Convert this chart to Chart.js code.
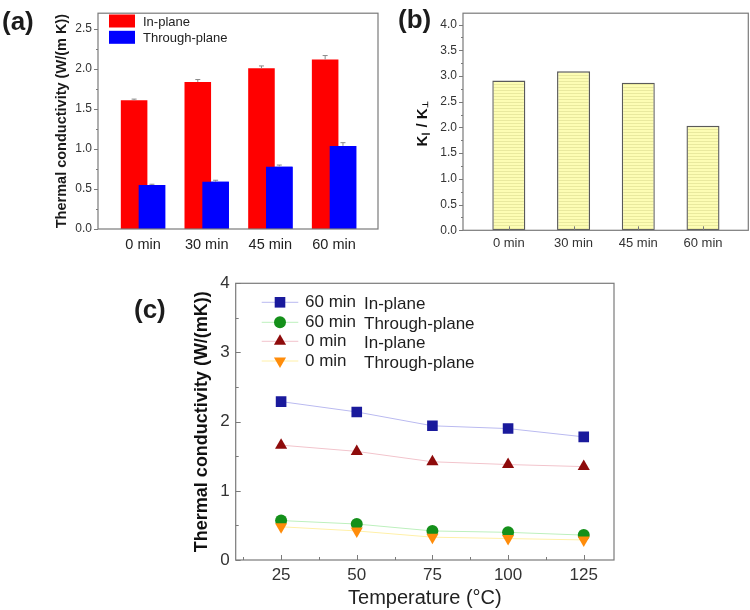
<!DOCTYPE html>
<html><head><meta charset="utf-8">
<script src="https://cdn.jsdelivr.net/npm/chart.js@4.4.1/dist/chart.umd.min.js"></script>
<style>
body{margin:0;background:#fff;width:750px;height:610px;position:relative;overflow:hidden;font-family:Arial,'Liberation Sans',sans-serif}
canvas{position:absolute}
.lbl{position:absolute;font-weight:bold;font-size:26px;line-height:1;color:#1c1c1c;font-family:Arial,'Liberation Sans',sans-serif}
</style></head><body>
<canvas id="ca" width="380" height="258" style="left:0;top:0"></canvas>
<canvas id="cb" width="370" height="258" style="left:380px;top:0"></canvas>
<canvas id="cc" width="500" height="352" style="left:130px;top:258px"></canvas>
<div class="lbl" style="left:2px;top:8px">(a)</div>
<div class="lbl" style="left:398px;top:6px">(b)</div>
<div class="lbl" style="left:134px;top:296px">(c)</div>
<script>
// ---------- data ----------
const categories = ['0 min', '30 min', '45 min', '60 min'];
const inPlane = [1.61, 1.84, 2.01, 2.12];
const throughPlane = [0.55, 0.59, 0.78, 1.04];
const inPlaneErr = [0.015, 0.03, 0.03, 0.05];
const throughPlaneErr = [0.01, 0.02, 0.02, 0.04];
const ratio = [2.91, 3.09, 2.87, 2.03];
const temperatures = [25, 50, 75, 100, 125];
const k60In = [2.29, 2.14, 1.94, 1.90, 1.78];
const k60Through = [0.57, 0.52, 0.42, 0.40, 0.36];
const k0In = [1.66, 1.57, 1.42, 1.38, 1.35];
const k0Through = [0.48, 0.42, 0.33, 0.31, 0.29];
const seriesTime = ['60 min', '60 min', '0 min', '0 min'];
const seriesType = ['In-plane', 'Through-plane', 'In-plane', 'Through-plane'];

const FONT = "Arial, 'Liberation Sans', sans-serif";
Chart.defaults.font.family = FONT;
Chart.defaults.animation = false;

function stepTicks(step) {
  return s => {
    const out = [];
    for (let v = Math.ceil(s.min / step) * step; v <= s.max + 1e-9; v += step) out.push({ value: Math.round(v * 1000) / 1000 });
    s.ticks = out;
  };
}

function makeFrame(o) {
  return {
    id: 'frame',
    afterDraw(chart) {
      const ctx = chart.ctx, a = chart.chartArea;
      ctx.save();
      ctx.strokeStyle = o.color; ctx.lineWidth = o.lw;
      ctx.strokeRect(a.left, a.top, a.right - a.left, a.bottom - a.top);
      ctx.lineWidth = 1;
      const drawAxis = (scale, isY, spec) => {
        if (!spec) return;
        const vals = scale.ticks.map(t => t.value);
        const step = vals.length > 1 ? vals[1] - vals[0] : 1;
        const minors = [];
        if (spec.minor) {
          vals.forEach(v => { if (v - step / 2 >= scale.min) minors.push(v - step / 2); });
          const l = vals[vals.length - 1] + step / 2;
          if (l <= scale.max) minors.push(l);
        }
        const s = spec.dir === 'in' ? 1 : -1;
        const seg = (v, len) => {
          const p = Math.round(scale.getPixelForValue(v)) + 0.5;
          ctx.beginPath();
          if (isY) { ctx.moveTo(a.left, p); ctx.lineTo(a.left + s * len, p); }
          else { ctx.moveTo(p, a.bottom); ctx.lineTo(p, a.bottom - s * len); }
          ctx.stroke();
        };
        vals.forEach(v => seg(v, spec.major));
        minors.forEach(v => seg(v, spec.minor));
      };
      drawAxis(chart.scales.x, false, o.x);
      drawAxis(chart.scales.y, true, o.y);
      ctx.restore();
    }
  };
}

// ---------- (a) ----------
const errPlugin = {
  id: 'errbars',
  afterDatasetsDraw(chart) {
    const ctx = chart.ctx, ys = chart.scales.y;
    // the second series overlaps the first one, so it is painted again on top
    chart.getDatasetMeta(1).controller.draw();
    ctx.save(); ctx.strokeStyle = '#8a8a8a'; ctx.lineWidth = 1;
    chart.data.datasets.forEach((d, di) => {
      const meta = chart.getDatasetMeta(di);
      meta.data.forEach((el, i) => {
        const v = d.data[i].y, e = d.err[i];
        const y1 = ys.getPixelForValue(v), y2 = ys.getPixelForValue(v + e);
        ctx.beginPath();
        ctx.moveTo(el.x, y1); ctx.lineTo(el.x, y2);
        ctx.moveTo(el.x - 2.5, y2); ctx.lineTo(el.x + 2.5, y2);
        ctx.stroke();
      });
    });
    ctx.restore();
  }
};
const legendA = {
  id: 'legendA',
  afterDraw(chart) {
    const ctx = chart.ctx;
    ctx.save();
    chart.data.datasets.forEach((d, i) => {
      const y = 14.5 + i * 16.3;
      ctx.fillStyle = d.backgroundColor;
      ctx.fillRect(109, y, 26, 13);
      ctx.fillStyle = '#222';
      ctx.font = '13px ' + FONT;
      ctx.textBaseline = 'middle';
      ctx.fillText(d.label, 143, y + 7.5);
    });
    ctx.restore();
  }
};
new Chart(document.getElementById('ca'), {
  type: 'bar',
  data: {
    datasets: [
      { label: 'In-plane', data: inPlane.map((v, i) => ({ x: i, y: v })), backgroundColor: '#ff0000', err: inPlaneErr, categoryPercentage: 0.56, barPercentage: 1.49 },
      { label: 'Through-plane', data: throughPlane.map((v, i) => ({ x: i, y: v })), backgroundColor: '#0000ff', err: throughPlaneErr, categoryPercentage: 0.56, barPercentage: 1.49 }
    ]
  },
  options: {
    responsive: false, animation: false,
    layout: { padding: { top: 4, right: 2, left: 0, bottom: 0 } },
    plugins: { legend: { display: false }, tooltip: { enabled: false } },
    scales: {
      x: {
        type: 'linear', min: -0.707, max: 3.69, offset: false,
        grid: { display: false, drawTicks: false, offset: false }, border: { display: false },
        afterBuildTicks: stepTicks(1),
        ticks: { autoSkip: false, maxRotation: 0, padding: 7, font: { size: 14.5 }, color: '#222', callback: v => categories[v] ?? '' },
        afterFit: s => { s.height = 29; }
      },
      y: {
        min: 0, max: 2.7,
        grid: { display: false, drawTicks: false }, border: { display: false },
        afterBuildTicks: stepTicks(0.5),
        ticks: { padding: 6, font: { size: 12 }, color: '#333', callback: v => v.toFixed(1) },
        title: { display: true, text: 'Thermal conductivity (W/(m K))', font: { size: 14.5, weight: 'bold' }, color: '#1a1a1a', padding: { top: 53, bottom: 0 } },
        afterFit: s => { s.width = 98; }
      }
    }
  },
  plugins: [errPlugin, legendA, makeFrame({ color: '#7a7a7a', lw: 1.2, y: { dir: 'out', major: 4, minor: 2 } })]
});

// ---------- (b) ----------
const pc = document.createElement('canvas'); pc.width = 4; pc.height = 3;
const pctx = pc.getContext('2d');
pctx.fillStyle = '#fdfdb4'; pctx.fillRect(0, 0, 4, 3);
pctx.fillStyle = '#e9e99e'; pctx.fillRect(0, 0, 4, 1);
const hatch = document.getElementById('cb').getContext('2d').createPattern(pc, 'repeat');
const titleB = {
  id: 'titleB',
  afterDraw(chart) {
    const ctx = chart.ctx;
    ctx.save(); ctx.translate(43, 124); ctx.rotate(-Math.PI / 2);
    const parts = [['K', 'bold 15px ' + FONT, 0], ['\u2225', 'bold 8px ' + FONT, 3], [' / K', 'bold 15px ' + FONT, 0], ['\u22A5', 'bold 8px ' + FONT, 3]];
    let w = 0;
    parts.forEach(p => { ctx.font = p[1]; w += ctx.measureText(p[0]).width; });
    let x = -w / 2;
    ctx.fillStyle = '#111'; ctx.textBaseline = 'middle';
    parts.forEach(p => { ctx.font = p[1]; ctx.fillText(p[0], x, p[2]); x += ctx.measureText(p[0]).width; });
    ctx.restore();
  }
};
new Chart(document.getElementById('cb'), {
  type: 'bar',
  data: {
    datasets: [
      { label: 'K ratio', data: ratio.map((v, i) => ({ x: i, y: v })), backgroundColor: hatch, borderColor: '#5a5a5a', borderWidth: 1.4, borderSkipped: false, categoryPercentage: 1, barPercentage: 0.51 }
    ]
  },
  options: {
    responsive: false, animation: false,
    layout: { padding: { top: 2.7, right: 1.7, left: 0, bottom: 0 } },
    plugins: { legend: { display: false }, tooltip: { enabled: false } },
    scales: {
      x: {
        type: 'linear', min: -0.708, max: 3.70, offset: false,
        grid: { display: false, drawTicks: false, offset: false }, border: { display: false },
        afterBuildTicks: stepTicks(1),
        ticks: { autoSkip: false, maxRotation: 0, padding: 5, font: { size: 13 }, color: '#333', callback: v => categories[v] ?? '' },
        afterFit: s => { s.height = 27.7; }
      },
      y: {
        min: 0, max: 4.22,
        grid: { display: false, drawTicks: false }, border: { display: false },
        afterBuildTicks: stepTicks(0.5),
        ticks: { padding: 6, font: { size: 12 }, color: '#333', callback: v => v.toFixed(1) },
        afterFit: s => { s.width = 83; }
      }
    }
  },
  plugins: [titleB, makeFrame({ color: '#7a7a7a', lw: 1.2, x: { dir: 'in', major: 4 }, y: { dir: 'out', major: 4, minor: 2 } })]
});

// ---------- (c) ----------
const styleC = [
  { line: '#babaf0', fill: '#1a1a9c', pointStyle: 'rect', r: 7.5, rot: 0 },
  { line: '#bdf0bd', fill: '#14901a', pointStyle: 'circle', r: 6, rot: 0 },
  { line: '#f2c4cc', fill: '#8e0b0b', pointStyle: 'triangle', r: 7, rot: 0 },
  { line: '#fff0a8', fill: '#ff8c0a', pointStyle: 'triangle', r: 7, rot: 180 }
];
const seriesC = [k60In, k60Through, k0In, k0Through];
function drawMarker(ctx, st, x, y) {
  ctx.fillStyle = st.fill;
  ctx.beginPath();
  if (st.pointStyle === 'rect') {
    const h = st.r * Math.SQRT1_2; ctx.rect(x - h, y - h, 2 * h, 2 * h);
  } else if (st.pointStyle === 'circle') {
    ctx.arc(x, y, st.r, 0, Math.PI * 2);
  } else {
    let rad = st.rot * Math.PI / 180;
    for (let k = 0; k < 3; k++) {
      const px = x + Math.sin(rad) * st.r, py = y - Math.cos(rad) * st.r;
      k === 0 ? ctx.moveTo(px, py) : ctx.lineTo(px, py);
      rad += 2 * Math.PI / 3;
    }
    ctx.closePath();
  }
  ctx.fill();
}
const legendC = {
  id: 'legendC',
  afterDraw(chart) {
    const ctx = chart.ctx;
    const rows = [44.3, 64.3, 83.3, 103];
    ctx.save();
    ctx.font = '17px ' + FONT; ctx.textBaseline = 'middle';
    styleC.forEach((st, i) => {
      const y = rows[i];
      ctx.strokeStyle = st.line; ctx.lineWidth = 1;
      ctx.beginPath(); ctx.moveTo(131.7, y); ctx.lineTo(168.3, y); ctx.stroke();
      drawMarker(ctx, st, 150, y);
      ctx.fillStyle = '#1e1e1e';
      ctx.fillText(seriesTime[i], 175, y);
      ctx.fillText(seriesType[i], 234, y + 2);
    });
    ctx.restore();
  }
};
new Chart(document.getElementById('cc'), {
  type: 'line',
  data: {
    datasets: seriesC.map((arr, i) => ({
      label: seriesTime[i] + ' ' + seriesType[i],
      data: temperatures.map((t, j) => ({ x: t, y: arr[j] })),
      borderColor: styleC[i].line, borderWidth: 1, fill: false, tension: 0,
      pointStyle: styleC[i].pointStyle, pointRadius: styleC[i].r, pointRotation: styleC[i].rot,
      pointBackgroundColor: styleC[i].fill, pointBorderColor: styleC[i].fill, pointBorderWidth: 0,
      order: 4 - i
    }))
  },
  options: {
    responsive: false, animation: false,
    layout: { padding: { top: 25.3, right: 16, left: 0, bottom: 0 } },
    plugins: { legend: { display: false }, tooltip: { enabled: false } },
    scales: {
      x: {
        type: 'linear', min: 10, max: 135,
        grid: { display: false, drawTicks: false }, border: { display: false },
        afterBuildTicks: stepTicks(25),
        ticks: { autoSkip: false, maxRotation: 0, padding: 5, font: { size: 17 }, color: '#333' },
        title: { display: true, text: 'Temperature (\u00B0C)', font: { size: 20 }, color: '#222', padding: { top: 0, bottom: 0 } },
        afterFit: s => { s.height = 50; }
      },
      y: {
        min: 0, max: 4,
        grid: { display: false, drawTicks: false }, border: { display: false },
        afterBuildTicks: stepTicks(1),
        ticks: { padding: 6, font: { size: 17 }, color: '#333' },
        title: { display: true, text: 'Thermal conductivity (W/(mK))', font: { size: 18, weight: 'bold' }, color: '#111', padding: { top: 61, bottom: 0 } },
        afterFit: s => { s.width = 105.7; }
      }
    }
  },
  plugins: [legendC, makeFrame({ color: '#7a7a7a', lw: 1.2, x: { dir: 'in', major: 5, minor: 3 }, y: { dir: 'in', major: 5, minor: 3 } })]
});
</script>
</body></html>
